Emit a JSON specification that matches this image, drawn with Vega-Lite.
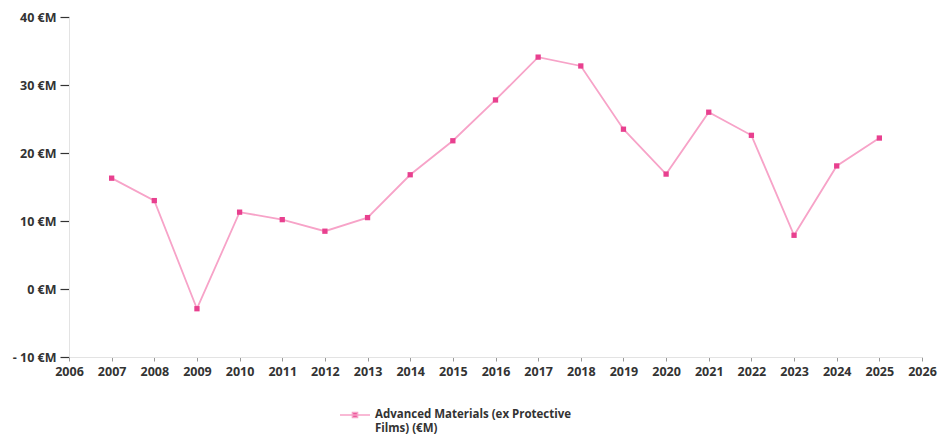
{
  "$schema": "https://vega.github.io/schema/vega-lite/v6.json",
  "width": 853,
  "height": 340,
  "padding": {"left": 69, "top": 17, "right": 26, "bottom": 79},
  "autosize": {"type": "none"},
  "background": "white",
  "config": {
    "view": {"stroke": null},
    "font": "Open Sans",
    "axis": {"labelFont": "Open Sans", "labelFontWeight": "bold", "labelFontSize": 12.5, "labelColor": "#333333", "grid": false, "domainColor": "#e3e3e3", "title": null}
  },
  "data": {"values": [
    {"year": 2007, "value": 16.3, "series": "Advanced Materials (ex Protective Films) (€M)"},
    {"year": 2008, "value": 13.0, "series": "Advanced Materials (ex Protective Films) (€M)"},
    {"year": 2009, "value": -2.9, "series": "Advanced Materials (ex Protective Films) (€M)"},
    {"year": 2010, "value": 11.3, "series": "Advanced Materials (ex Protective Films) (€M)"},
    {"year": 2011, "value": 10.2, "series": "Advanced Materials (ex Protective Films) (€M)"},
    {"year": 2012, "value": 8.5, "series": "Advanced Materials (ex Protective Films) (€M)"},
    {"year": 2013, "value": 10.5, "series": "Advanced Materials (ex Protective Films) (€M)"},
    {"year": 2014, "value": 16.8, "series": "Advanced Materials (ex Protective Films) (€M)"},
    {"year": 2015, "value": 21.8, "series": "Advanced Materials (ex Protective Films) (€M)"},
    {"year": 2016, "value": 27.8, "series": "Advanced Materials (ex Protective Films) (€M)"},
    {"year": 2017, "value": 34.1, "series": "Advanced Materials (ex Protective Films) (€M)"},
    {"year": 2018, "value": 32.8, "series": "Advanced Materials (ex Protective Films) (€M)"},
    {"year": 2019, "value": 23.5, "series": "Advanced Materials (ex Protective Films) (€M)"},
    {"year": 2020, "value": 16.9, "series": "Advanced Materials (ex Protective Films) (€M)"},
    {"year": 2021, "value": 26.0, "series": "Advanced Materials (ex Protective Films) (€M)"},
    {"year": 2022, "value": 22.6, "series": "Advanced Materials (ex Protective Films) (€M)"},
    {"year": 2023, "value": 7.9, "series": "Advanced Materials (ex Protective Films) (€M)"},
    {"year": 2024, "value": 18.1, "series": "Advanced Materials (ex Protective Films) (€M)"},
    {"year": 2025, "value": 22.2, "series": "Advanced Materials (ex Protective Films) (€M)"}
  ]},
  "encoding": {
    "x": {"field": "year", "type": "quantitative", "scale": {"domain": [2006, 2026], "nice": false, "zero": false},
      "axis": {"values": [2006,2007,2008,2009,2010,2011,2012,2013,2014,2015,2016,2017,2018,2019,2020,2021,2022,2023,2024,2025,2026], "format": "d", "tickColor": "#999999", "tickSize": 4, "labelPadding": 4, "labelFlush": false, "labelOverlap": false}},
    "y": {"field": "value", "type": "quantitative", "scale": {"domain": [-10, 40], "nice": false},
      "axis": {"values": [-10, 0, 10, 20, 30, 40], "tickColor": "#333333", "tickSize": 9, "tickWidth": 1.2, "labelPadding": 4, "labelFlush": false,
        "labelExpr": "datum.value < 0 ? '- ' + abs(datum.value) + ' €M' : datum.value + ' €M'"}}
  },
  "layer": [
    {"mark": {"type": "line", "strokeWidth": 1.8},
      "encoding": {"color": {"field": "series", "type": "nominal", "scale": {"range": ["#f7a3c8"]},
        "legend": {"orient": "none", "legendX": 270, "legendY": 382, "title": null, "symbolType": "M-1,0H1M-0.17,-0.17H0.17V0.17H-0.17Z", "symbolSize": 900, "symbolStrokeWidth": 1.5, "symbolStrokeColor": "#ee5fa0", "symbolFillColor": "#e8408f",
          "labelFont": "Open Sans", "labelFontWeight": "bold", "labelFontSize": 11.5, "labelColor": "#333333", "labelLimit": 400, "labelOffset": 4,
          "labelBaseline": "middle", "labelLineHeight": 16,
          "labelExpr": "['Advanced Materials (ex Protective', 'Films) (€M)']"}}}},
    {"mark": {"type": "point", "shape": "square", "filled": true, "size": 28, "color": "#e8408f", "opacity": 1}}
  ]
}
